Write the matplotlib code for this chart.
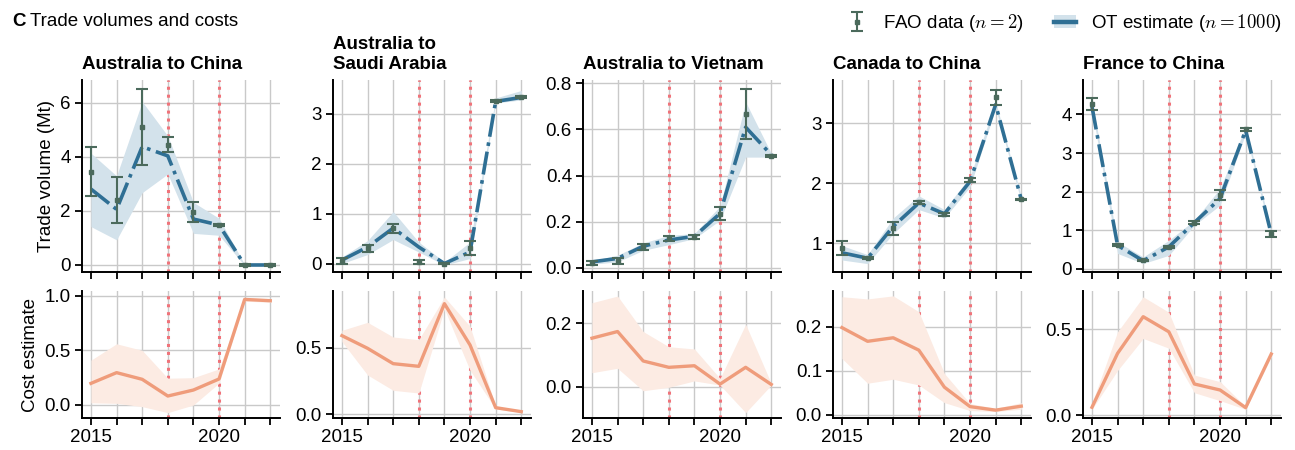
import matplotlib
matplotlib.use("Agg")
import matplotlib.pyplot as plt
from matplotlib.patches import Patch
from matplotlib.lines import Line2D

plt.rcParams['font.family'] = ['Liberation Sans', 'DejaVu Sans']
plt.rcParams['mathtext.fontset'] = 'cm'
FS = 13.5
plt.rcParams['font.size'] = FS

years = [2015, 2016, 2017, 2018, 2019, 2020, 2021, 2022]
route_titles = ["Australia to China", "Australia to\nSaudi Arabia", "Australia to Vietnam",
                "Canada to China", "France to China"]
marker_years = [2018, 2020]

# --- Australia to China ---
au_cn_ot = [2.81, 2.06, 4.38, 4.04, 1.70, 1.48, 0.0, 0.0]
au_cn_ot_lo = [1.42, 0.93, 2.68, 3.37, 1.17, 1.10, -0.02, -0.02]
au_cn_ot_hi = [4.14, 3.30, 6.05, 4.78, 2.32, 1.73, 0.02, 0.02]
au_cn_fao = [3.46, 2.41, 5.10, 4.45, 1.96, 1.48, 0.0, 0.0]
au_cn_fao_err = [0.92, 0.85, 1.40, 0.28, 0.36, 0.04, 0.02, 0.02]
au_cn_cost = [0.198, 0.296, 0.235, 0.082, 0.137, 0.238, 0.966, 0.954]
au_cn_cost_lo = [0.02, 0.015, -0.015, -0.07, 0.0, 0.20, 0.95, 0.94]
au_cn_cost_hi = [0.41, 0.56, 0.50, 0.245, 0.25, 0.33, 0.98, 0.975]

# --- Australia to Saudi Arabia ---
au_sa_ot = [0.07, 0.33, 0.71, 0.33, 0.0, 0.23, 3.25, 3.33]
au_sa_ot_lo = [0.0, 0.18, 0.48, 0.23, -0.03, 0.10, 3.22, 3.28]
au_sa_ot_hi = [0.13, 0.46, 1.04, 0.43, 0.03, 0.43, 3.32, 3.47]
au_sa_fao = [0.06, 0.31, 0.71, 0.04, 0.0, 0.31, 3.25, 3.33]
au_sa_fao_err = [0.06, 0.07, 0.09, 0.04, 0.01, 0.145, 0.02, 0.02]
au_sa_cost = [0.59, 0.495, 0.38, 0.36, 0.83, 0.52, 0.05, 0.02]
au_sa_cost_lo = [0.545, 0.295, 0.18, 0.16, 0.79, 0.33, 0.04, 0.015]
au_sa_cost_hi = [0.63, 0.69, 0.58, 0.56, 0.88, 0.66, 0.06, 0.025]

# --- Australia to Vietnam ---
au_vn_ot = [0.025, 0.04, 0.093, 0.12, 0.136, 0.235, 0.61, 0.49]
au_vn_ot_lo = [0.015, 0.025, 0.075, 0.10, 0.126, 0.206, 0.48, 0.48]
au_vn_ot_hi = [0.03, 0.054, 0.107, 0.14, 0.148, 0.267, 0.72, 0.496]
au_vn_fao = [0.02, 0.029, 0.09, 0.127, 0.133, 0.235, 0.667, 0.485]
au_vn_fao_err = [0.01, 0.012, 0.012, 0.01, 0.008, 0.029, 0.107, 0.005]
au_vn_cost = [0.153, 0.174, 0.081, 0.061, 0.066, 0.008, 0.061, 0.007]
au_vn_cost_lo = [0.044, 0.058, -0.013, -0.002, 0.018, 0.005, -0.082, 0.005]
au_vn_cost_hi = [0.265, 0.286, 0.174, 0.126, 0.119, 0.026, 0.197, 0.01]

# --- Canada to China ---
ca_cn_ot = [0.84, 0.75, 1.28, 1.67, 1.49, 2.03, 3.31, 1.73]
ca_cn_ot_lo = [0.72, 0.66, 1.16, 1.56, 1.42, 1.94, 3.25, 1.69]
ca_cn_ot_hi = [0.96, 0.81, 1.42, 1.79, 1.56, 2.11, 3.36, 1.78]
ca_cn_fao = [0.92, 0.75, 1.25, 1.68, 1.48, 2.05, 3.43, 1.73]
ca_cn_fao_err = [0.12, 0.02, 0.11, 0.02, 0.03, 0.03, 0.13, 0.01]
ca_cn_cost = [0.198, 0.167, 0.175, 0.147, 0.063, 0.019, 0.011, 0.020]
ca_cn_cost_lo = [0.128, 0.072, 0.081, 0.068, 0.028, 0.010, 0.008, 0.013]
ca_cn_cost_hi = [0.268, 0.263, 0.270, 0.234, 0.094, 0.026, 0.015, 0.028]

# --- France to China ---
fr_cn_ot = [4.20, 0.61, 0.21, 0.57, 1.20, 1.82, 3.59, 0.90]
fr_cn_ot_lo = [4.11, 0.40, 0.14, 0.35, 1.13, 1.65, 3.51, 0.81]
fr_cn_ot_hi = [4.37, 0.70, 0.31, 0.74, 1.26, 2.08, 3.68, 1.00]
fr_cn_fao = [4.27, 0.62, 0.22, 0.57, 1.20, 1.91, 3.61, 0.90]
fr_cn_fao_err = [0.16, 0.03, 0.02, 0.03, 0.03, 0.125, 0.04, 0.08]
fr_cn_cost = [0.045, 0.36, 0.574, 0.486, 0.181, 0.146, 0.043, 0.356]
fr_cn_cost_lo = [0.033, 0.26, 0.447, 0.39, 0.13, 0.084, 0.033, 0.34]
fr_cn_cost_hi = [0.068, 0.486, 0.69, 0.60, 0.233, 0.195, 0.05, 0.37]

top_ylims = [(-0.26, 6.85), (-0.17, 3.68), (-0.019, 0.815), (0.52, 3.72), (-0.08, 4.89)]
top_yticks = [[0, 2, 4, 6], [0, 1, 2, 3], [0.0, 0.2, 0.4, 0.6, 0.8], [1, 2, 3], [0, 1, 2, 3, 4]]
bot_ylims = [(-0.119, 1.043), (-0.0275, 0.925), (-0.099, 0.302), (-0.0068, 0.281), (-0.0175, 0.724)]
bot_yticks = [[0.0, 0.5, 1.0], [0.0, 0.5], [0.0, 0.2], [0.0, 0.1, 0.2], [0.0, 0.5]]

routes = [
    (au_cn_ot, au_cn_ot_lo, au_cn_ot_hi, au_cn_fao, au_cn_fao_err, au_cn_cost, au_cn_cost_lo, au_cn_cost_hi),
    (au_sa_ot, au_sa_ot_lo, au_sa_ot_hi, au_sa_fao, au_sa_fao_err, au_sa_cost, au_sa_cost_lo, au_sa_cost_hi),
    (au_vn_ot, au_vn_ot_lo, au_vn_ot_hi, au_vn_fao, au_vn_fao_err, au_vn_cost, au_vn_cost_lo, au_vn_cost_hi),
    (ca_cn_ot, ca_cn_ot_lo, ca_cn_ot_hi, ca_cn_fao, ca_cn_fao_err, ca_cn_cost, ca_cn_cost_lo, ca_cn_cost_hi),
    (fr_cn_ot, fr_cn_ot_lo, fr_cn_ot_hi, fr_cn_fao, fr_cn_fao_err, fr_cn_cost, fr_cn_cost_lo, fr_cn_cost_hi),
]

OT_COL = '#2f6f94'
OT_BAND = '#d3e2eb'
FAO_COL = '#4b6a5c'
COST_COL = '#ef9c7b'
COST_BAND = '#fcebe3'
RED = '#f0737a'
GRID = '#c9c9c9'

W, H = 1295, 450
fig = plt.figure(figsize=(W / 100, H / 100), dpi=100)

lefts = [82, 333, 583, 833, 1083]
aw = 198
top_b, top_t = 272, 80
bot_b, bot_t = 418, 291


def style(ax):
    for s in ['top', 'right']:
        ax.spines[s].set_visible(False)
    for s in ['left', 'bottom']:
        ax.spines[s].set_linewidth(1.4)
    ax.tick_params(direction='out', length=5, width=1.3, labelsize=FS, pad=3)
    ax.set_xticks(years)
    ax.set_xlim(2014.65, 2022.38)
    ax.grid(True, color=GRID, linewidth=1.0, zorder=0)
    ax.set_axisbelow(True)
    for yv in marker_years:
        ax.axvline(yv, color=RED, linestyle=(0, (1, 1.6)), linewidth=2.2, zorder=1)


fao_handle = None
for i, (ot, lo, hi, fao, err, cost, clo, chi) in enumerate(routes):
    axt = fig.add_axes([lefts[i] / W, 1 - top_b / H, aw / W, (top_b - top_t) / H])
    axb = fig.add_axes([lefts[i] / W, 1 - bot_b / H, aw / W, (bot_b - bot_t) / H])
    style(axt)
    style(axb)

    axt.fill_between(years, lo, hi, color=OT_BAND, linewidth=0, zorder=2)
    axt.plot(years, ot, color=OT_COL, linestyle='-.', linewidth=2.6, zorder=3)
    eb = axt.errorbar(years, fao, yerr=err, fmt='s', color=FAO_COL, markersize=3.2,
                      capsize=4, elinewidth=1.5, capthick=1.5, zorder=4)
    if fao_handle is None:
        fao_handle = eb
    axt.set_ylim(*top_ylims[i])
    axt.set_yticks(top_yticks[i])
    axt.tick_params(axis='x', labelbottom=False)
    axt.set_title(route_titles[i], loc='left', fontweight='bold', fontsize=FS, pad=8)

    axb.fill_between(years, clo, chi, color=COST_BAND, linewidth=0, zorder=2)
    axb.plot(years, cost, color=COST_COL, linewidth=2.4, zorder=3)
    axb.set_ylim(*bot_ylims[i])
    axb.set_yticks(bot_yticks[i])
    axb.set_xticks(years)
    axb.set_xticklabels([str(y) if y in (2015, 2020) else '' for y in years])

    if i == 0:
        axt.set_ylabel('Trade volume (Mt)', fontsize=FS)
        axb.set_ylabel('Cost estimate', fontsize=FS)

fig.text(12 / W, 1 - 22 / H, 'C', fontweight='bold', fontsize=FS, va='center', ha='left')
fig.text(30 / W, 1 - 22 / H, 'Trade volumes and costs', fontsize=FS, va='center', ha='left')

ot_handle = (Patch(facecolor=OT_BAND, edgecolor='none'),
             Line2D([0], [0], color=OT_COL, linewidth=3.2))
fig.legend([fao_handle, ot_handle],
           [r'FAO data ($n=2$)', r'OT estimate ($n=1000$)'],
           loc='upper right', bbox_to_anchor=(1.003, 1.01), ncol=2, frameon=False,
           fontsize=FS, handlelength=1.2, columnspacing=1.6, handletextpad=0.8)

fig.savefig('out.png', dpi=100)
